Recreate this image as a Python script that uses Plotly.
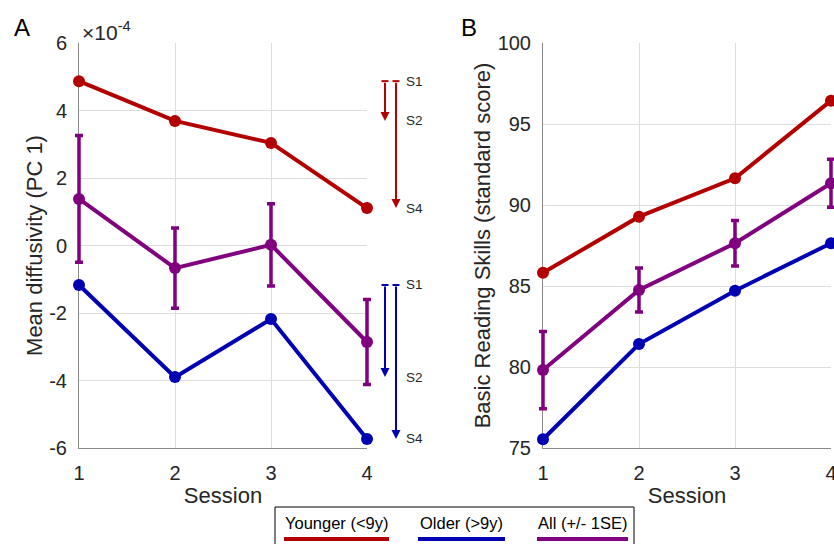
import plotly.graph_objects as go

W, H = 834, 544

sessions = [1, 2, 3, 4]

# Panel A: mean diffusivity (x 1e-4)
md_younger = [4.87, 3.69, 3.04, 1.11]
md_older = [-1.17, -3.90, -2.18, -5.73]
md_all = [1.38, -0.67, 0.02, -2.86]
md_all_se = [1.88, 1.19, 1.22, 1.26]

# Panel B: basic reading skills
brs_younger = [85.82, 89.28, 91.65, 96.44]
brs_older = [75.54, 81.42, 84.71, 87.64]
brs_all = [79.81, 84.75, 87.64, 91.34]
brs_all_se = [2.38, 1.36, 1.40, 1.48]

series_names = ["Younger (<9y)", "Older (>9y)", "All (+/- 1SE)"]
colors = ["#B30000", "#0000B3", "#800080"]

yticks_a = [-6, -4, -2, 0, 2, 4, 6]
yticks_a_text = ["-6", "-4", "-2", "0", "2", "4", "6"]
yticks_b = [75, 80, 85, 90, 95, 100]
xticks = [1, 2, 3, 4]

FONT = "Liberation Sans, Arial, Helvetica, sans-serif"
TXT = "#262626"

fig = go.Figure()

def add_panel(xa, ya, ys, se):
    for i, (y, c) in enumerate(zip(ys, colors)):
        kw = {}
        if i == 2:
            kw["error_y"] = dict(type="data", array=se, symmetric=True,
                                 thickness=3.5, width=4, color=c)
        fig.add_trace(go.Scatter(
            x=sessions, y=y, mode="lines+markers", xaxis=xa, yaxis=ya,
            line=dict(color=c, width=4), marker=dict(color=c, size=12),
            cliponaxis=False, showlegend=False, **kw))

add_panel("x", "y", [md_younger, md_older, md_all], md_all_se)
add_panel("x2", "y2", [brs_younger, brs_older, brs_all], brs_all_se)

ydom = [(H - 448) / H, (H - 43) / H]
axis_common = dict(showgrid=True, gridcolor="#dedede", gridwidth=1,
                   showline=True, linecolor="#8a8a8a", linewidth=1,
                   zeroline=False, ticks="outside", ticklen=7,
                   tickcolor="rgba(0,0,0,0)", automargin=False,
                   ticklabeloverflow="allow", layer="below traces",
                   tickfont=dict(family=FONT, size=20, color=TXT))

fig.update_layout(
    width=W, height=H, margin=dict(l=0, r=0, t=0, b=0),
    paper_bgcolor="white", plot_bgcolor="white",
    font=dict(family=FONT, color=TXT),
    xaxis=dict(domain=[79 / W, 367 / W], range=[1, 4], tickvals=xticks,
               anchor="y",
               title=dict(text="Session", font=dict(size=22, family=FONT, color=TXT), standoff=4),
               **axis_common),
    yaxis=dict(domain=ydom, range=[-6, 6], tickvals=yticks_a, ticktext=yticks_a_text,
               anchor="x",
               title=dict(text="Mean diffusivity (PC 1)", font=dict(size=22, family=FONT, color=TXT), standoff=0),
               **axis_common),
    xaxis2=dict(domain=[543 / W, 831 / W], range=[1, 4], tickvals=xticks,
                anchor="y2",
                title=dict(text="Session", font=dict(size=22, family=FONT, color=TXT), standoff=4),
                **axis_common),
    yaxis2=dict(domain=ydom, range=[75, 100], tickvals=yticks_b,
                anchor="x2",
                title=dict(text="Basic Reading Skills (standard score)", font=dict(size=22, family=FONT, color=TXT), standoff=0),
                **axis_common),
)

annotations = []
shapes = []

# panel letters and exponent
annotations.append(dict(text="A", x=22 / W, y=(H - 27) / H, xref="paper", yref="paper",
                        xanchor="center", yanchor="middle",
                        showarrow=False, font=dict(size=24, family=FONT, color="black")))
annotations.append(dict(text="B", x=469 / W, y=(H - 27) / H, xref="paper", yref="paper",
                        xanchor="center", yanchor="middle",
                        showarrow=False, font=dict(size=24, family=FONT, color="black")))
annotations.append(dict(text="×10<sup>-4</sup>", x=80 / W, y=(H - 31) / H, xref="paper", yref="paper",
                        xanchor="left", yanchor="middle", showarrow=False,
                        font=dict(size=21, family=FONT, color=TXT)))

# change arrows (S1 -> S2, S1 -> S4)
x_short, x_long, x_lab = 385 / W, 396 / W, 404 / W
for vals, c in [(md_younger, colors[0]), (md_older, colors[1])]:
    s1, s2, s4 = vals[0], vals[1], vals[3]
    for xp, tip in [(x_short, s2), (x_long, s4)]:
        annotations.append(dict(x=xp, y=tip, xref="paper", yref="y",
                                ax=0, ay=s1, axref="pixel", ayref="y",
                                showarrow=True, arrowhead=2, arrowsize=0.9,
                                arrowwidth=2, arrowcolor=c, standoff=0, text=""))
        shapes.append(dict(type="line", xref="paper", yref="y",
                           x0=xp - 3.5 / W, x1=xp + 3.5 / W, y0=s1, y1=s1,
                           line=dict(color=c, width=2)))
    for lab, v in [("S1", s1), ("S2", s2), ("S4", s4)]:
        annotations.append(dict(text=lab, x=x_lab, y=v, xref="paper", yref="y",
                                xanchor="left", yanchor="middle", showarrow=False,
                                font=dict(size=13.5, family=FONT, color=TXT)))

# legend box (manual, text above line)
shapes.append(dict(type="rect", xref="paper", yref="paper",
                   x0=275 / W, x1=634 / W, y0=-10 / H, y1=(H - 507) / H,
                   line=dict(color="black", width=1), fillcolor="white", layer="below"))
leg_spans = [(284, 389), (418, 505), (537, 628)]
for name, c, (a, b) in zip(series_names, colors, leg_spans):
    annotations.append(dict(text=name, x=(a + b) / 2 / W, y=(H - 523) / H,
                            xref="paper", yref="paper", showarrow=False,
                            xanchor="center", yanchor="middle",
                            font=dict(size=16.5, family=FONT, color="black")))
    shapes.append(dict(type="line", xref="paper", yref="paper",
                       x0=a / W, x1=b / W, y0=(H - 539) / H, y1=(H - 539) / H,
                       line=dict(color=c, width=4)))

fig.update_layout(annotations=annotations, shapes=shapes)

post = (
    "document.body.style.margin='0';document.body.style.overflow='hidden';"
    "function unclip(){document.querySelectorAll('.cartesianlayer [clip-path], .cartesianlayer g')"
    ".forEach(function(e){e.removeAttribute('clip-path');e.style.clipPath='none';});}"
    "unclip();setTimeout(unclip,50);setTimeout(unclip,300);"
)
fig.write_html("out.html", post_script=post, config={"displayModeBar": False})
